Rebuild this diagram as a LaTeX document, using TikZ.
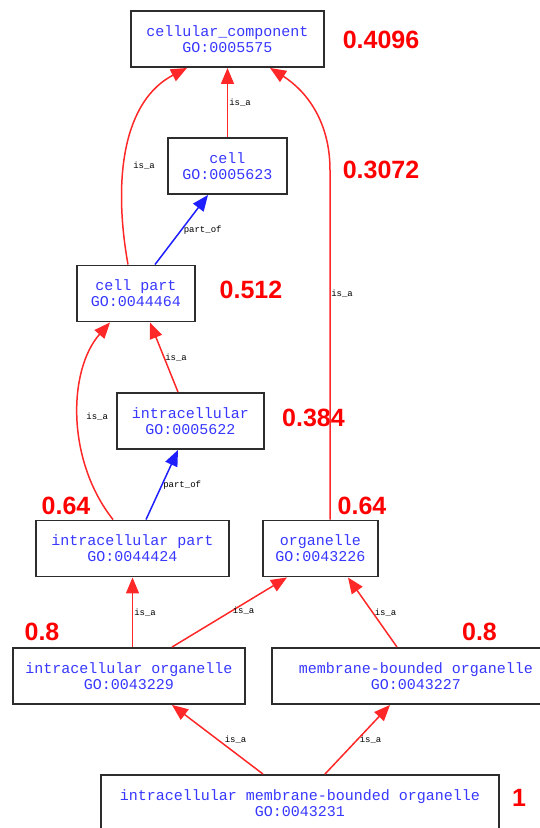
\documentclass[tikz,border=0pt]{standalone}
\usepackage{fontspec}
\setmainfont{Liberation Sans}
\setmonofont{Liberation Mono}
\usetikzlibrary{arrows.meta,positioning}
\definecolor{goblue}{RGB}{55,55,255}
\definecolor{edgered}{RGB}{255,40,40}
\definecolor{edgeblue}{RGB}{30,30,255}
\definecolor{boxgray}{RGB}{45,45,45}
\tikzset{
  term/.style={draw=boxgray, line width=1.9pt, minimum height=56pt, inner sep=0pt,
    align=center, text=goblue, font=\ttfamily\fontsize{15}{16}\selectfont},
  isa/.style={->, draw=edgered, line width=1.5pt},
  partof/.style={->, draw=edgeblue, line width=1.5pt},
  rel/.style={font=\ttfamily\fontsize{9}{10}\selectfont, text=black, inner sep=0.5pt},
  score/.style={font=\bfseries\fontsize{25}{25}\selectfont, text=red, inner sep=0pt},
}

\begin{document}
\begin{tikzpicture}[x=1pt, y=-1pt, >={Triangle[length=16pt,width=13pt]}]
  \useasboundingbox (0,0) rectangle (539,828);
  % GO terms
  \node[term, minimum width=193pt] (cc) at (227.5,39) {cellular\_component\\GO:0005575};
  \node[term, minimum width=119pt] (cell) at (227.5,166) {cell\\GO:0005623};
  \node[term, minimum width=118pt] (cellpart) at (136,293.5) {cell part\\GO:0044464};
  \node[term, minimum width=147pt] (intracell) at (190.5,421) {intracellular\\GO:0005622};
  \node[term, minimum width=193pt] (intrapart) at (132.5,548.5) {intracellular part\\GO:0044424};
  \node[term, minimum width=115pt] (organelle) at (320.5,548.5) {organelle\\GO:0043226};
  \node[term, minimum width=232pt] (intraorg) at (129,676) {intracellular organelle\\GO:0043229};
  \node[term, minimum width=288pt] (mbo) at (416,676) {membrane-bounded organelle\\GO:0043227};
  \node[term, minimum width=398pt] (imbo) at (300,803) {intracellular membrane-bounded organelle\\GO:0043231};
  % scores
  \node[score] (s-cc) at (381,40) {0.4096};
  \node[score] (s-cell) at (381,170) {0.3072};
  \node[score] (s-cellpart) at (251,290) {0.512};
  \node[score] (s-intracell) at (313.5,418) {0.384};
  \node[score] (s-intrapart) at (66,506) {0.64};
  \node[score] (s-organelle) at (362,506) {0.64};
  \node[score] (s-intraorg) at (42,632) {0.8};
  \node[score] (s-mbo) at (479.5,632) {0.8};
  \node[score] (s-imbo) at (519,798) {1};
  % relations
  \draw[isa] (cell) -- node[rel, right=0.5pt] {is\_a} (cc);
  \draw[isa] ([xshift=-8pt]cellpart.north) .. controls (112,175) and (125,100) ..
    node[rel, pos=0.4, right=8pt] {is\_a} ([xshift=-40.5pt]cc.south);
  \coordinate (orgbend) at (330,170);
  \draw[isa] ([xshift=9.5pt]organelle.north) -- node[rel, pos=0.646, right=0pt] {is\_a} (orgbend)
    .. controls (330,120) and (305,90) .. ([xshift=42.5pt]cc.south);
  \draw[partof] ([xshift=19pt]cellpart.north) -- node[rel, right=1pt] {part\_of} ([xshift=-19.5pt]cell.south);
  \draw[isa] ([xshift=-12.5pt]intracell.north) -- node[rel, right=0pt] {is\_a} ([xshift=14pt]cellpart.south);
  \draw[isa] ([xshift=-19.5pt]intrapart.north) .. controls (66,460) and (68,370) ..
    node[rel, pos=0.5, right=7pt] {is\_a} ([xshift=-26pt]cellpart.south);
  \draw[partof] ([xshift=13.5pt]intrapart.north) -- node[rel, right=0pt] {part\_of} ([xshift=-12.5pt]intracell.south);
  \draw[isa] ([xshift=3.5pt]intraorg.north) -- node[rel, right=0.5pt] {is\_a} (intrapart.south);
  \draw[isa] ([xshift=43pt]intraorg.north) -- node[rel, pos=0.5, above right=-3pt and 2pt] {is\_a} ([xshift=-33.5pt]organelle.south);
  \draw[isa] ([xshift=-19pt]mbo.north) -- node[rel, right=1pt] {is\_a} ([xshift=27.5pt]organelle.south);
  \draw[isa] ([xshift=-37pt]imbo.north) -- node[rel, right=6pt] {is\_a} ([xshift=43pt]intraorg.south);
  \draw[isa] ([xshift=25pt]imbo.north) -- node[rel, right=1pt] {is\_a} ([xshift=-26pt]mbo.south);
\end{tikzpicture}
\end{document}
